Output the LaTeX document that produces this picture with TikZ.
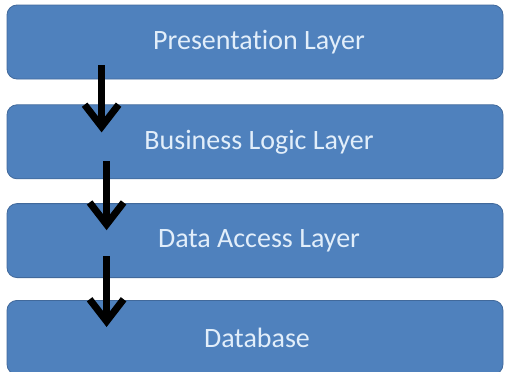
\documentclass[tikz,border=0pt]{standalone}
\usepackage{fontspec}
\setmainfont{Carlito}[Ligatures=NoCommon]
\usepackage{tikz}
\usetikzlibrary{arrows.meta, positioning}
\definecolor{boxblue}{RGB}{79,129,189}
\definecolor{boxedge}{RGB}{65,105,155}
\definecolor{boxtext}{RGB}{226,238,250}
\tikzstyle{layer} = [rectangle, rounded corners=10pt, minimum width=496pt, minimum height=74pt, text centered, draw=boxedge, line width=0.8pt, fill=boxblue, text=boxtext, font=\fontsize{28}{32}\selectfont]
\tikzstyle{arrow} = [-{Straight Barb[length=22pt, width=34pt, line width=7pt]}, line width=7pt, black]

\begin{document}
\begin{tikzpicture}[x=1pt, y=1pt, node distance=24pt]

    \useasboundingbox (0, 0) rectangle (506, -372);

    \node (pres) [layer] at (255, -42) {\hspace*{8pt}Presentation Layer};
    \node (logic) [layer, below=25pt of pres] {\hspace*{8pt}Business Logic Layer};
    \node (data) [layer, below=of logic] {\hspace*{8pt}Data Access Layer};
    \node (db) [layer, below=22pt of data] {\hspace*{4pt}Database};

    \draw [arrow] ([xshift=95pt, yshift=14pt]pres.south west) -- ([xshift=95pt, yshift=-28pt]logic.north west);
    \draw [arrow] ([xshift=100pt, yshift=18pt]logic.south west) -- ([xshift=100pt, yshift=-27pt]data.north west);
    \draw [arrow] ([xshift=100pt, yshift=22pt]data.south west) -- ([xshift=100pt, yshift=-27pt]db.north west);

\end{tikzpicture}
\end{document}
